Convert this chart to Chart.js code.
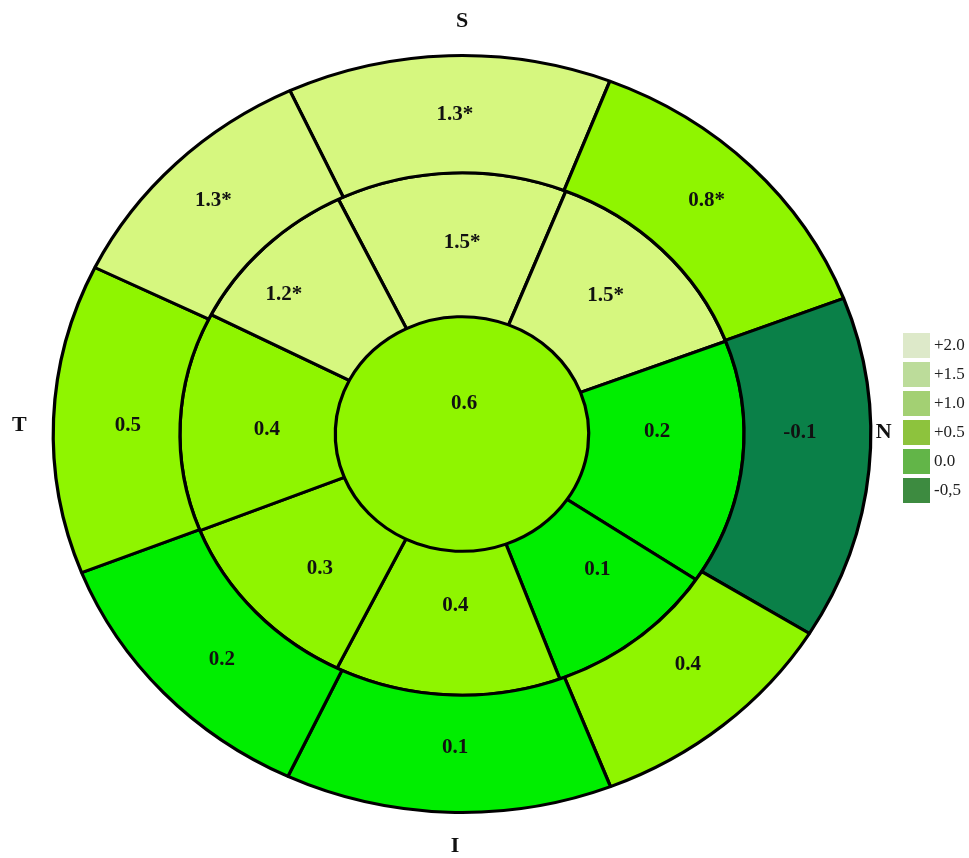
<!DOCTYPE html>
<html>
<head>
<meta charset="utf-8">
<script src="https://cdn.jsdelivr.net/npm/chart.js@4.4.1/dist/chart.umd.min.js"></script>
<style>
  html, body { margin: 0; padding: 0; background: #fff; }
  #wrap { width: 969px; height: 858px; }
</style>
</head>
<body>
<div id="wrap"><canvas id="grid"></canvas></div>
<script>
// angular width (deg) of the 8 sectors, clockwise from the top-left edge
const outerSpans  = [46.1, 47.8, 52.8, 36.9, 46.5, 43.3, 47.6, 39.0];
const innerSpans  = [47.6, 47.6, 54.7, 35.8, 46.6, 42.0, 48.9, 36.8];
const outerValues = [1.3, 0.8, -0.1, 0.4, 0.1, 0.2, 0.5, 1.3];
const outerStars  = [true, true, false, false, false, false, false, true];
const innerValues = [1.5, 1.5, 0.2, 0.1, 0.4, 0.3, 0.4, 1.2];
const innerStars  = [true, true, false, false, false, false, false, true];
const centerValue = 0.6;

const legendLabels = ['+2.0', '+1.5', '+1.0', '+0.5', '0.0', '-0,5'];
const legendColors = ['#dde9c9', '#bcdc9a', '#a3d073', '#8dc33d', '#62b548', '#3d8b40'];

// small shifts of the value text away from the sector centre
const outerNudge  = [[4, 0], [0, -8], [-6, -32], [5, -15], [5, -6], [12, 7], [11, 4], [-7, -5]];
const innerNudge  = [[8, -2], [-2, -6], [-8, -24], [9, -13], [4, -17], [8, 6], [9, 5], [-35, -4]];
const centerNudge = [2, -30];

const sx = 1.08; // horizontal stretch of the rings

function colorFor(v) {
    if (v >= 1.0) return '#d6f77f';
    if (v >= 0.3) return '#8ff500';
    if (v >= 0) return '#00ee00';
    return '#0a8048';
}

function fmt(v, star) {
    return v.toFixed(1) + (star ? '*' : '');
}

const stretchPlugin = {
    id: 'stretch',
    beforeDatasetsDraw(chart) {
        const c = chart.getDatasetMeta(0).data[0];
        const ctx = chart.ctx;
        ctx.save();
        ctx.translate(c.x, c.y);
        ctx.scale(sx, 1);
        ctx.translate(-c.x, -c.y);
    },
    afterDatasetsDraw(chart) {
        chart.ctx.restore();
    }
};

const labelPlugin = {
    id: 'cellLabels',
    afterDraw(chart) {
        const ctx = chart.ctx;
        const rings = [
            { text: outerValues.map((v, i) => fmt(v, outerStars[i])), nudge: outerNudge },
            { text: innerValues.map((v, i) => fmt(v, innerStars[i])), nudge: innerNudge }
        ];
        ctx.save();
        ctx.fillStyle = '#111';
        ctx.font = 'bold 21px "Liberation Serif"';
        ctx.textAlign = 'center';
        ctx.textBaseline = 'middle';
        rings.forEach((ring, d) => {
            chart.getDatasetMeta(d).data.forEach((arc, i) => {
                const p = arc.getProps(['x', 'y', 'startAngle', 'endAngle', 'innerRadius', 'outerRadius']);
                const a = (p.startAngle + p.endAngle) / 2;
                const r = (p.innerRadius + p.outerRadius) / 2;
                ctx.fillText(ring.text[i],
                    p.x + Math.cos(a) * r * sx + ring.nudge[i][0],
                    p.y + Math.sin(a) * r + ring.nudge[i][1]);
            });
        });
        const c = chart.getDatasetMeta(0).data[0];
        ctx.fillText(fmt(centerValue, false), c.x + centerNudge[0], c.y + centerNudge[1]);

        // compass letters round the rings
        const R = c.outerRadius;
        ctx.font = 'bold 22px "Liberation Serif"';
        ctx.fillText('S', c.x, c.y - R - 34);
        ctx.fillText('I', c.x - 7, c.y + R + 34);
        ctx.fillText('T', c.x - R * sx - 34, c.y - 9);
        ctx.fillText('N', c.x + R * sx + 13, c.y - 2);

        // colour key
        ctx.font = '17px "Liberation Serif"';
        ctx.textAlign = 'left';
        legendLabels.forEach((t, i) => {
            const y = 333 + i * 29;
            ctx.fillStyle = legendColors[i];
            ctx.fillRect(903, y, 27, 25);
            ctx.fillStyle = '#222';
            ctx.fillText(t, 934, y + 13);
        });
        ctx.restore();
    }
};

const ds = (data, colors, weight, bw) => ({
    data: data,
    backgroundColor: colors,
    borderColor: '#000',
    borderWidth: bw,
    weight: weight,
    clip: false
});

const outerRing = ds(outerSpans, outerValues.map(colorFor), 0.31, 3);
const innerRing = ds(innerSpans, innerValues.map(colorFor), 0.38, 3);
const centerDisc = ds([360], [colorFor(centerValue)], 0.31, 0);
// each ring starts at its own top-left edge
outerRing.rotation = -24.9;
innerRing.rotation = -26;

new Chart(document.getElementById('grid'), {
    type: 'doughnut',
    data: {
        labels: outerSpans.map((_, i) => 'sector ' + (i + 1)),
        datasets: [outerRing, innerRing, centerDisc]
    },
    options: {
        responsive: true,
        maintainAspectRatio: false,
        animation: false,
        cutout: 0,
        layout: { padding: { left: 52, right: 97, top: 54, bottom: 44 } },
        plugins: {
            legend: { display: false },
            tooltip: { enabled: false }
        }
    },
    plugins: [stretchPlugin, labelPlugin]
});
</script>
</body>
</html>
